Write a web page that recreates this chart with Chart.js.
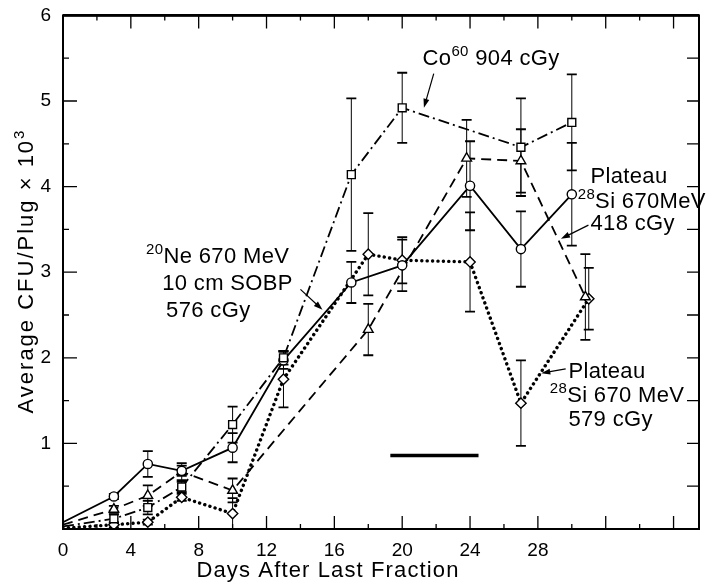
<!DOCTYPE html>
<html>
<head>
<meta charset="utf-8">
<title>CFU per plug after last fraction</title>
<script src="https://cdn.jsdelivr.net/npm/chart.js@4.4.1/dist/chart.umd.min.js"></script>
<style>
  html, body { margin: 0; padding: 0; background: #fff; }
  #chart { display: block; }
</style>
</head>
<body>
<canvas id="chart" width="706" height="582"></canvas>
<script>
/* Average CFU/plug vs days after last fraction — four beams */

const FONT = "'Liberation Sans', Arial, Helvetica, sans-serif";
Chart.defaults.color = '#000';
Chart.defaults.font.family = FONT;

// ── Data ─────────────────────────────────────────────────────────────────────

// Co60 904 cGy — squares, dash-dot
const coDays = [0, 3, 5, 7, 10, 13, 17, 20, 27, 30];
const coVals = [0.03, 0.12, 0.25, 0.49, 1.22, 2.0, 4.14, 4.92, 4.46, 4.75];
const coErr  = [0, 0.05, 0.08, 0.06, 0.21, 0.08, 0.89, 0.41, 0.57, 0.56];

// 20Ne 670 MeV 10 cm SOBP 576 cGy — circles, solid
const neDays = [0, 3, 5, 7, 10, 13, 17, 20, 24, 27, 30];
const neVals = [0.08, 0.38, 0.76, 0.68, 0.95, 1.97, 2.88, 3.08, 4.01, 3.27, 3.91];
const neErr  = [0, 0.03, 0.15, 0.06, 0.17, 0.1, 0.24, 0.3, 0.52, 0.44, 0.6];

// Plateau 28Si 670 MeV 418 cGy — triangles, dashed
const siHiDays = [0, 3, 5, 7, 10, 18, 23.8, 27, 30.8];
const siHiVals = [0.05, 0.23, 0.39, 0.67, 0.45, 2.33, 4.33, 4.3, 2.71];
const siHiErr  = [0, 0.04, 0.12, 0.1, 0.14, 0.3, 0.45, 0.37, 0.5];

// Plateau 28Si 670 MeV 579 cGy — diamonds, dotted
const siLoDays = [0, 3, 5, 7, 10, 13, 18, 20, 24, 27, 31];
const siLoVals = [0.01, 0.05, 0.08, 0.37, 0.18, 1.75, 3.21, 3.14, 3.12, 1.47, 2.69];
const siLoErr  = [0, 0.03, 0.03, 0.04, 0.18, 0.33, 0.48, 0.27, 0.58, 0.5, 0.36];

// irradiation-period bar
const barDays = [19.3, 24.5];
const barVals = [0.86, 0.86];

const xLabelMax = 28;
const yLabels = [1, 2, 3, 4, 5, 6];

const xTitle = ['Days After Last Fraction'];
const yTitle = ['Average CFU/Plug \u00d7 10', '^3'];

// ── Annotation text & arrows (data coords) ──────────────────────────────────
// '^' prefix = superscript piece

const notes = [
  { at: [21.2, 5.415], parts: ['Co', '^60', ' 904 cGy'] },
  { at: [31.1, 4.04],  parts: ['Plateau'] },
  { at: [30.35, 3.75], parts: ['^28', 'Si 670MeV'] },
  { at: [31.1, 3.49],  parts: ['418 cGy'] },
  { at: [4.9, 3.105],  parts: ['^20', 'Ne 670 MeV'] },
  { at: [5.85, 2.79],  parts: ['10 cm SOBP'] },
  { at: [6.08, 2.48],  parts: ['576 cGy'] },
  { at: [29.8, 1.765], parts: ['Plateau'] },
  { at: [28.7, 1.485], parts: ['^28', 'Si 670 MeV'] },
  { at: [29.8, 1.205], parts: ['579 cGy'] },
];

const arrows = [
  { from: [21.86, 5.32], to: [21.28, 4.92] },
  { from: [30.98, 3.55], to: [29.36, 3.39] },
  { from: [14.0, 2.8],   to: [15.3, 2.56] },
  { from: [29.64, 1.87], to: [28.2, 1.82] },
];

// ── Helpers ─────────────────────────────────────────────────────────────────

function pts(xs, ys) { return xs.map((x, i) => ({ x, y: ys[i] })); }

function hideFirst(r) { return ctx => (ctx.dataIndex === 0 ? 0 : r); }

function series(label, xs, ys, extra) {
  return Object.assign({
    label,
    data: pts(xs, ys),
    showLine: true,
    borderColor: '#000',
    borderWidth: 1.8,
    pointBackgroundColor: '#fff',
    pointBorderColor: '#000',
    pointBorderWidth: 1.4,
  }, extra);
}

const errSets = [
  [coDays, coVals, coErr],
  [neDays, neVals, neErr],
  [siHiDays, siHiVals, siHiErr],
  [siLoDays, siLoVals, siLoErr],
];

// text made of normal and '^' superscript pieces; returns its width
function drawRich(ctx, parts, x, y, measureOnly) {
  let cx = x;
  for (const p of parts) {
    const sup = p[0] === '^';
    const t = sup ? p.slice(1) : p;
    ctx.font = sup ? `15px ${FONT}` : `22px ${FONT}`;
    if (!measureOnly) ctx.fillText(t, cx, sup ? y - 9 : y);
    cx += ctx.measureText(t).width;
  }
  return cx - x;
}

// stretch a title to the width it has in the figure, centred on (cx, cy)
function fitText(ctx, parts, cx, cy, width, rot) {
  ctx.save();
  ctx.letterSpacing = '0px';
  const w = drawRich(ctx, parts, 0, 0, true);
  const n = parts.join('').length;
  ctx.letterSpacing = ((width - w) / n).toFixed(2) + 'px';
  const w2 = drawRich(ctx, parts, 0, 0, true);
  ctx.translate(cx, cy);
  ctx.rotate(rot);
  ctx.textAlign = 'left';
  ctx.textBaseline = 'alphabetic';
  drawRich(ctx, parts, -w2 / 2, 0);
  ctx.restore();
}

function arrow(ctx, x1, y1, x2, y2) {
  const a = Math.atan2(y2 - y1, x2 - x1);
  ctx.beginPath();
  ctx.moveTo(x1, y1);
  ctx.lineTo(x2 - 6 * Math.cos(a), y2 - 6 * Math.sin(a));
  ctx.stroke();
  ctx.beginPath();
  ctx.moveTo(x2, y2);
  ctx.lineTo(x2 - 9 * Math.cos(a) + 3 * Math.sin(a), y2 - 9 * Math.sin(a) - 3 * Math.cos(a));
  ctx.lineTo(x2 - 9 * Math.cos(a) - 3 * Math.sin(a), y2 - 9 * Math.sin(a) + 3 * Math.cos(a));
  ctx.closePath();
  ctx.fill();
}

// ── Plugin: error bars, boxed frame with inward ticks, titles, annotations ──

const decor = {
  id: 'decor',
  beforeDatasetsDraw(chart) {
    const { ctx, scales: { x, y } } = chart;
    ctx.save();
    ctx.strokeStyle = '#000';
    for (const [xs, ys, es] of errSets) {
      xs.forEach((d, i) => {
        if (!es[i]) return;
        const px = x.getPixelForValue(d);
        const hi = y.getPixelForValue(ys[i] + es[i]);
        const lo = y.getPixelForValue(Math.max(0, ys[i] - es[i]));
        ctx.lineWidth = 1;
        ctx.beginPath();
        ctx.moveTo(px, hi); ctx.lineTo(px, lo);
        ctx.stroke();
        ctx.lineWidth = 1.8;
        ctx.beginPath();
        ctx.moveTo(px - 5, hi); ctx.lineTo(px + 5, hi);
        ctx.moveTo(px - 5, lo); ctx.lineTo(px + 5, lo);
        ctx.stroke();
      });
    }
    ctx.restore();
  },
  afterDatasetsDraw(chart) {
    const { ctx, chartArea: a, scales: { x, y } } = chart;
    ctx.save();
    ctx.strokeStyle = '#000';
    ctx.fillStyle = '#000';

    // frame
    ctx.lineWidth = 2;
    ctx.strokeRect(a.left, a.top, a.right - a.left, a.bottom - a.top);
    ctx.lineWidth = 2.6;
    ctx.beginPath(); ctx.moveTo(a.left, a.top); ctx.lineTo(a.right, a.top); ctx.stroke();

    // x ticks: major every 4, minor every 2, top and bottom
    ctx.lineWidth = 1.3;
    ctx.beginPath();
    for (let d = 2; d < x.max; d += 2) {
      const px = x.getPixelForValue(d);
      const len = d % 4 === 0 ? 13 : 5;
      ctx.moveTo(px, a.bottom); ctx.lineTo(px, a.bottom - len);
      ctx.moveTo(px, a.top); ctx.lineTo(px, a.top + len);
    }
    // y ticks: every 0.5, left and right
    for (let v = 0.5; v < y.max; v += 0.5) {
      const py = y.getPixelForValue(v);
      const len = Number.isInteger(v) ? 14 : 6;
      ctx.moveTo(a.left, py); ctx.lineTo(a.left + len, py);
      ctx.moveTo(a.right, py); ctx.lineTo(a.right - 12, py);
    }
    ctx.stroke();

    // axis titles (figure has them off-centre and widely tracked)
    fitText(ctx, xTitle, 328, 577, 263, 0);
    fitText(ctx, yTitle, 33, 271, 287, -Math.PI / 2);

    // annotations
    ctx.textBaseline = 'alphabetic';
    ctx.textAlign = 'left';
    ctx.letterSpacing = '0.35px';
    for (const n of notes) {
      drawRich(ctx, n.parts, x.getPixelForValue(n.at[0]), y.getPixelForValue(n.at[1]));
    }
    ctx.letterSpacing = '0px';
    ctx.lineWidth = 1.2;
    for (const r of arrows) {
      arrow(ctx,
        x.getPixelForValue(r.from[0]), y.getPixelForValue(r.from[1]),
        x.getPixelForValue(r.to[0]), y.getPixelForValue(r.to[1]));
    }
    ctx.restore();
  }
};

// ── Chart ────────────────────────────────────────────────────────────────────

new Chart(document.getElementById('chart'), {
  type: 'scatter',
  data: {
    datasets: [
      series('Co60 904 cGy', coDays, coVals, {
        borderDash: [11, 4, 2, 4],
        pointStyle: 'rect', pointRadius: hideFirst(5.6),
      }),
      series('20Ne 670 MeV 10 cm SOBP 576 cGy', neDays, neVals, {
        pointStyle: 'circle', pointRadius: hideFirst(4.6),
      }),
      series('Plateau 28Si 670 MeV 418 cGy', siHiDays, siHiVals, {
        borderDash: [10, 6],
        pointStyle: 'triangle', pointRadius: hideFirst(5.6),
      }),
      series('Plateau 28Si 670 MeV 579 cGy', siLoDays, siLoVals, {
        borderWidth: 3.4,
        borderDash: [0.1, 5.3],
        borderCapStyle: 'round',
        pointStyle: 'rectRot', pointRadius: hideFirst(5.2),
      }),
      series('bar', barDays, barVals, { borderWidth: 3.5, pointRadius: 0 }),
    ]
  },
  options: {
    responsive: false,
    animation: false,
    layout: { padding: { top: 15, right: 2, left: 0, bottom: 0 } },
    plugins: { legend: { display: false }, tooltip: { enabled: false } },
    scales: {
      x: {
        type: 'linear', min: 0, max: 37.5,
        afterFit: s => { s.height = 53; },
        grid: { display: false },
        border: { display: false },
        ticks: {
          stepSize: 4, autoSkip: false, maxRotation: 0, padding: 2,
          font: { size: 19 },
          callback: v => (v <= xLabelMax && v % 4 === 0 ? String(v) : ''),
        },
      },
      y: {
        min: 0, max: 6,
        afterFit: s => { s.width = 63; },
        grid: { display: false },
        border: { display: false },
        ticks: {
          stepSize: 1, padding: 4,
          font: { size: 19 },
          callback: v => (yLabels.includes(v) ? String(v) : ''),
        },
      },
    }
  },
  plugins: [decor]
});
</script>
</body>
</html>
